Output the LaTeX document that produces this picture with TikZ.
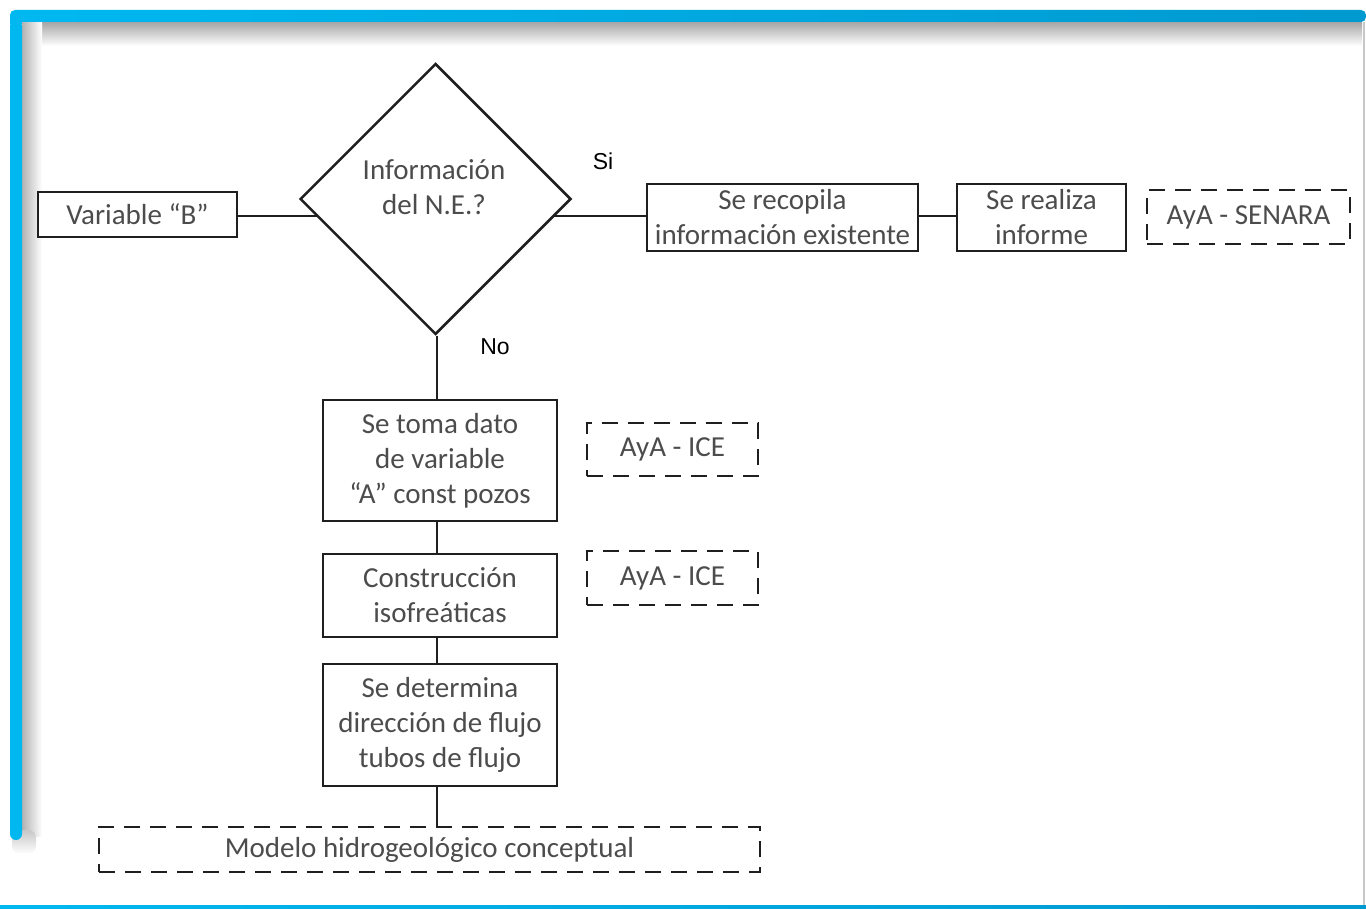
\documentclass[tikz,border=0pt]{standalone}
\usepackage{fontspec}
\setmainfont{Carlito}
\newfontfamily\arialf{Liberation Sans}
\usetikzlibrary{shapes.geometric,backgrounds}
\definecolor{cyanA}{RGB}{0,184,240}
\definecolor{cyanB}{RGB}{0,153,208}
\definecolor{txtgray}{RGB}{76,76,76}
\tikzset{
  box/.style={draw=black!88, line width=2.5pt, fill=white, align=center, inner sep=0pt,
    text=txtgray, font=\fontsize{29}{35}\selectfont},
  dbox/.style={draw=black!88, line width=2.5pt, dash pattern=on 16pt off 10pt, align=center,
    inner sep=0pt, text=txtgray, font=\fontsize{29}{35}\selectfont},
  conn/.style={draw=black!88, line width=2.5pt},
  lab/.style={font=\arialf\fontsize{23}{27}\selectfont, text=black}
}
\begin{document}
\begin{tikzpicture}[x=1pt,y=-1pt]
\useasboundingbox (0,0) rectangle (1366,909);
% frame shadows
\shade[top color=black!35, bottom color=white] (22,22) rectangle (1362,46);
\shade[left color=black!30, right color=white] (22,22) rectangle (42,836);
\shade[top color=black!22, bottom color=white, rounded corners=8] (12,830) rectangle (36,854);
% frame bars
\shade[left color=cyanA, right color=cyanB, rounded corners=5] (10,22) -- (10,10) -- (1366,10) -- (1366,22) -- cycle;
\fill[cyanA, rounded corners=6] (10,20) -- (10,840) -- (22,840) -- (22,20) -- cycle;
\fill[cyanA] (10,16) rectangle (22,24);
\shade[left color=cyanA, right color=cyanB] (0,905) rectangle (1366,909);
\draw[black!22, line width=2pt] (1364,22) -- (1364,905);
% nodes
\node[box, minimum width=199pt, minimum height=45pt] (var) at (137.5,214.5) {Variable “B”};
\node[diamond, draw=black!88, line width=2.5pt, fill=white, minimum width=271pt, minimum height=271pt,
  inner sep=0pt] (dia) at (435.5,199) {};
\node[align=center, text=txtgray, font=\fontsize{29}{35}\selectfont] (diat) at (434,187) {Información\\del N.E.?};
\node[box, minimum width=271pt, minimum height=67pt] (rec) at (782.5,217.5) {Se recopila\\información existente};
\node[box, minimum width=169pt, minimum height=67pt] (inf) at (1041.5,217.5) {Se realiza\\informe};
\node[dbox, minimum width=203pt, minimum height=54pt] (sen) at (1248.5,217) {AyA - SENARA};
\node[box, minimum width=234pt, minimum height=121pt] (toma) at (440,460.5) {Se toma dato\\de variable\\“A” const pozos};
\node[dbox, minimum width=171pt, minimum height=53pt] (ice1) at (672.5,449.5) {AyA - ICE};
\node[box, minimum width=234pt, minimum height=83pt] (cons) at (440,595.5) {Construcción\\isofreáticas};
\node[dbox, minimum width=171pt, minimum height=54pt] (ice2) at (672.5,578) {AyA - ICE};
\node[box, minimum width=234pt, minimum height=122pt] (det) at (440,725) {Se determina\\dirección de flujo\\tubos de flujo};
\node[dbox, minimum width=661pt, minimum height=45pt] (mod) at (429.5,849.5) {Modelo hidrogeológico conceptual};
\node[lab] (si) at (603,161) {Si};
\node[lab] (no) at (495,347) {No};
\coordinate (vx) at (437,0);
% connectors
\begin{scope}[on background layer]
\draw[conn] (var.east |- 0,216) -- (dia.center |- 0,216);
\draw[conn] (dia.center |- 0,216) -- (rec.west |- 0,216);
\end{scope}
\draw[conn] (rec.east |- 0,216) -- (inf.west |- 0,216);
\draw[conn] (dia.south -| vx) -- (toma.north -| vx);
\draw[conn] (toma.south -| vx) -- (cons.north -| vx);
\draw[conn] (cons.south -| vx) -- (det.north -| vx);
\draw[conn] (det.south -| vx) -- (mod.north -| vx);
\end{tikzpicture}
\end{document}
